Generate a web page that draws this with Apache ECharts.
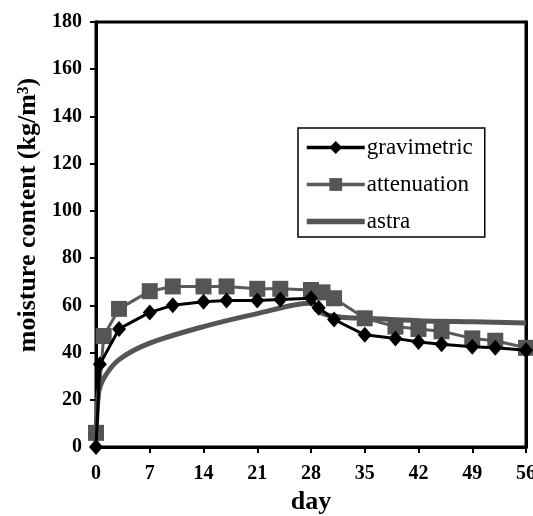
<!DOCTYPE html>
<html>
<head>
<meta charset="utf-8">
<script src="https://cdn.jsdelivr.net/npm/echarts@6/dist/echarts.min.js"></script>
<style>html,body{margin:0;padding:0;background:#fff;overflow:hidden;}#c{width:533px;height:516px;}</style>
</head>
<body>
<div id="c"></div>
<script>
const xTicks = [0, 7, 14, 21, 28, 35, 42, 49, 56];
const yTicks = [0, 20, 40, 60, 80, 100, 120, 140, 160, 180];
const yTitle = 'moisture content (kg/m³)';
const xTitle = 'day';

const gravDays = [0, 0.5, 3, 7, 10, 14, 17, 21, 24, 28, 29, 31, 35, 39, 42, 45, 49, 52, 56];
const gravVals = [0, 35, 50, 57, 60, 61.5, 62, 62, 62.5, 63, 59, 54, 47.5, 46, 44.5, 43.5, 42.5, 42, 41];

const attDays = [0, 1, 3, 7, 10, 14, 17, 21, 24, 28, 29.5, 31, 35, 39, 42, 45, 49, 52, 56];
const attVals = [6, 47, 58.5, 66, 68, 68, 68, 67, 67, 66.5, 65.5, 63, 54.5, 51, 50, 49, 46, 45, 42];

const astraDays = [0, 0.3, 1, 3, 7, 14, 21, 28, 28.7, 30, 32, 35, 42, 49, 56];
const astraVals = [0, 22, 29, 37, 44, 51, 56.5, 61, 58, 56, 55, 54.5, 53.5, 53, 52.5];

const pair = (xs, ys) => xs.map((x, i) => [x, ys[i]]);
const serif = '"Liberation Serif", "DejaVu Serif", serif';

const chart = echarts.init(document.getElementById('c'), null, {renderer: 'canvas', width: 533, height: 516});
chart.setOption({
  animation: false,
  backgroundColor: '#fff',
  grid: {left: 96, top: 22, width: 430, height: 425, show: true, borderColor: '#000', borderWidth: 3,
    containLabel: false, outerBoundsMode: 'none'},
  legend: {
    left: 298, top: 128, orient: 'vertical',
    padding: [8, 12, 4, 6], itemGap: 14,
    itemWidth: 58, itemHeight: 16,
    borderColor: '#000', borderWidth: 1.5,
    textStyle: {fontFamily: serif, fontSize: 23, color: '#000', padding: [0, 0, 0, -3]},
    data: [
      {name: 'gravimetric', lineStyle: {width: 3.5}},
      {name: 'attenuation', lineStyle: {width: 3.5}},
      {name: 'astra', itemStyle: {opacity: 0}, lineStyle: {width: 5.5}}
    ]
  },
  graphic: [{
    type: 'text', x: 28, y: 215, rotation: Math.PI / 2,
    style: {text: yTitle, font: 'bold 26px ' + serif, fill: '#000', align: 'center', verticalAlign: 'middle'}
  }],
  xAxis: {
    type: 'value', min: xTicks[0], max: xTicks[xTicks.length - 1], interval: 7,
    name: xTitle, nameLocation: 'middle', nameGap: 35,
    nameTextStyle: {fontFamily: serif, fontSize: 26, fontWeight: 'bold', color: '#000'},
    axisLine: {lineStyle: {color: '#000', width: 3}},
    axisTick: {show: true, inside: false, length: 6, lineStyle: {color: '#000', width: 2}},
    axisLabel: {fontFamily: serif, fontSize: 20, fontWeight: 'bold', color: '#000', margin: 17,
      formatter: v => xTicks.includes(v) ? String(v) : ''},
    splitLine: {show: false}
  },
  yAxis: [{
    type: 'value', min: yTicks[0], max: yTicks[yTicks.length - 1], interval: 20,
    axisLine: {lineStyle: {color: '#000', width: 3}},
    axisTick: {show: true, inside: false, length: 6, lineStyle: {color: '#000', width: 2}},
    axisLabel: {fontFamily: serif, fontSize: 20, fontWeight: 'bold', color: '#000', margin: 14,
      formatter: v => yTicks.includes(v) ? String(v) : ''},
    splitLine: {show: false}
  }, {
    type: 'value', position: 'right', min: yTicks[0], max: yTicks[yTicks.length - 1], interval: 20,
    axisLine: {show: true, lineStyle: {color: '#000', width: 3}},
    axisTick: {show: false}, axisLabel: {show: false}, splitLine: {show: false}
  }],
  series: [
    {
      name: 'astra', type: 'line', data: pair(astraDays, astraVals),
      smooth: 0.3, showSymbol: false, symbol: 'circle',
      lineStyle: {color: '#555', width: 5}, itemStyle: {color: '#555'}, z: 1
    },
    {
      name: 'attenuation', type: 'line', data: pair(attDays, attVals),
      symbol: 'rect', symbolSize: 16,
      lineStyle: {color: '#5a5a5a', width: 3}, itemStyle: {color: '#555'}, z: 2
    },
    {
      name: 'gravimetric', type: 'line', data: pair(gravDays, gravVals),
      symbol: 'diamond', symbolSize: [14, 16],
      lineStyle: {color: '#000', width: 3}, itemStyle: {color: '#000'}, z: 3
    }
  ]
});
</script>
</body>
</html>
